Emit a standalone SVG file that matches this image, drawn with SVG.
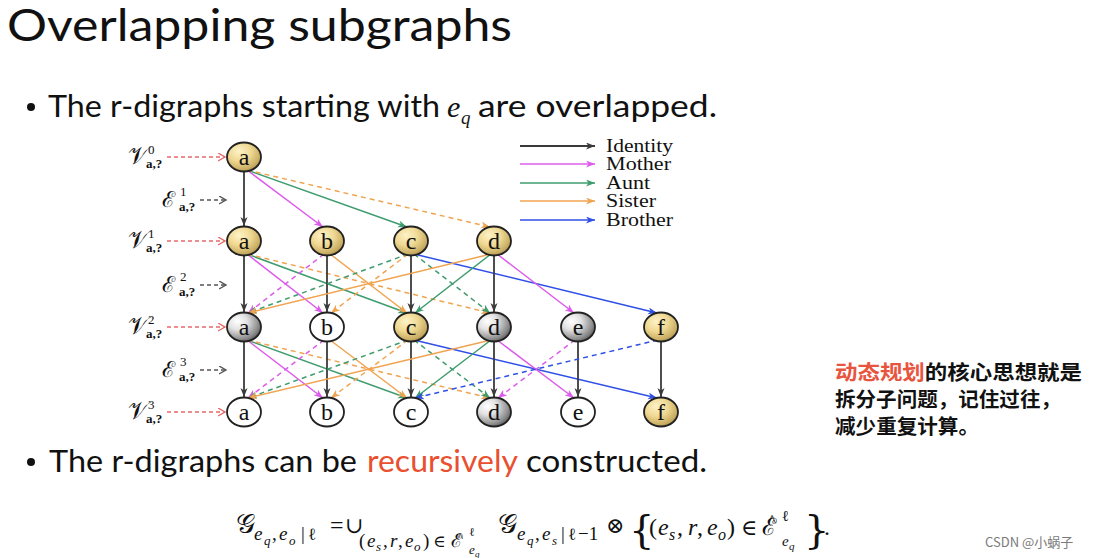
<svg xmlns="http://www.w3.org/2000/svg" width="1096" height="558" viewBox="0 0 1096 558">
<style>
.title{font-family:Lato,"Open Sans",sans-serif;font-size:45px;fill:#111}
.bul{font-family:Lato,"Open Sans",sans-serif;font-size:31px;fill:#111}
.mi{font-family:"Liberation Serif","DejaVu Serif",serif;font-style:italic}
.ser{font-family:"Liberation Serif","DejaVu Serif",serif}
.math{font-family:"DejaVu Serif","Liberation Serif",serif;fill:#111}
.nl{font-family:"Liberation Serif","DejaVu Serif",serif;font-size:24px;fill:#111;text-anchor:middle}
.nd{stroke:#222;stroke-width:1.8}
.e{fill:none;stroke-width:1.5}
.id{stroke:#3a3a3a;stroke-width:1.8;marker-end:url(#mk)}
.mo{stroke:#dd5cec;marker-end:url(#mm)}
.au{stroke:#3f9c6e;marker-end:url(#ma)}
.si{stroke:#f0a450;marker-end:url(#ms)}
.br{stroke:#2f4fe6;marker-end:url(#mb)}
.d{stroke-dasharray:5 4}
.lg{font-family:"Liberation Serif","DejaVu Serif",serif;font-size:18px;fill:#111}
.lbl{font-family:"DejaVu Serif","Liberation Serif",serif;fill:#111}
.sb{font-family:"Liberation Serif","DejaVu Serif",serif;font-size:13px;font-weight:bold;fill:#111}
.cn{font-family:"Noto Sans CJK SC",sans-serif;font-size:20.5px;font-weight:bold;fill:#111}
.f{font-family:"Liberation Serif","DejaVu Serif",serif;fill:#111}
.fi{font-family:"Liberation Serif","DejaVu Serif",serif;font-style:italic;fill:#111}
.hat{font-family:"Liberation Serif","DejaVu Serif",serif;fill:#111;text-anchor:middle}
</style>
<defs>
<radialGradient id="gold" cx="0.4" cy="0.35" r="0.75" fx="0.35" fy="0.3">
<stop offset="0" stop-color="#fdf3c8"/>
<stop offset="0.45" stop-color="#efd892"/>
<stop offset="0.8" stop-color="#c8ac62"/>
<stop offset="1" stop-color="#8a7440"/>
</radialGradient>
<radialGradient id="gray" cx="0.35" cy="0.35" r="0.8" fx="0.3" fy="0.3">
<stop offset="0" stop-color="#ffffff"/>
<stop offset="0.35" stop-color="#e2e2e2"/>
<stop offset="0.75" stop-color="#8a8a8a"/>
<stop offset="1" stop-color="#3e3e3e"/>
</radialGradient>
<marker id="mk" markerUnits="userSpaceOnUse" markerWidth="10" markerHeight="8" refX="9" refY="3.5" orient="auto"><path d="M0,0 L9,3.5 L0,7 L2.5,3.5 Z" fill="#3a3a3a"/></marker>
<marker id="mm" markerUnits="userSpaceOnUse" markerWidth="10" markerHeight="8" refX="9" refY="3.5" orient="auto"><path d="M0,0 L9,3.5 L0,7 L2.5,3.5 Z" fill="#dd5cec"/></marker>
<marker id="ma" markerUnits="userSpaceOnUse" markerWidth="10" markerHeight="8" refX="9" refY="3.5" orient="auto"><path d="M0,0 L9,3.5 L0,7 L2.5,3.5 Z" fill="#3f9c6e"/></marker>
<marker id="ms" markerUnits="userSpaceOnUse" markerWidth="10" markerHeight="8" refX="9" refY="3.5" orient="auto"><path d="M0,0 L9,3.5 L0,7 L2.5,3.5 Z" fill="#f0a450"/></marker>
<marker id="mb" markerUnits="userSpaceOnUse" markerWidth="10" markerHeight="8" refX="9" refY="3.5" orient="auto"><path d="M0,0 L9,3.5 L0,7 L2.5,3.5 Z" fill="#2f4fe6"/></marker>
<marker id="mr" markerUnits="userSpaceOnUse" markerWidth="10" markerHeight="10" refX="7" refY="4" orient="auto"><path d="M0,0 L7,4 L0,8" fill="none" stroke="#e86a6a" stroke-width="1.4"/></marker>
<marker id="mg" markerUnits="userSpaceOnUse" markerWidth="10" markerHeight="10" refX="7" refY="4" orient="auto"><path d="M0,0 L7,4 L0,8" fill="none" stroke="#555" stroke-width="1.4"/></marker>
</defs>
<rect width="1096" height="558" fill="#ffffff"/>

<text class="title" x="7" y="41" textLength="505" lengthAdjust="spacingAndGlyphs">Overlapping subgraphs</text>

<g id="bullet1">
<circle cx="31" cy="107" r="4" fill="#111"/>
<text class="bul" x="48" y="117" textLength="392" lengthAdjust="spacingAndGlyphs">The r-digraphs starting with</text>
<text class="mi" x="447" y="117" font-size="30" fill="#111">e</text>
<text class="mi" x="461" y="124" font-size="19" fill="#111">q</text>
<text class="bul" x="478" y="117" textLength="239" lengthAdjust="spacingAndGlyphs">are overlapped.</text>
</g>

<g id="bullet2">
<circle cx="31" cy="462" r="4" fill="#111"/>
<text class="bul" x="49" y="472" textLength="308" lengthAdjust="spacingAndGlyphs">The r-digraphs can be</text>
<text class="bul" x="367" y="472" textLength="151" lengthAdjust="spacingAndGlyphs" style="fill:#e8502f">recursively</text>
<text class="bul" x="526" y="472" textLength="181" lengthAdjust="spacingAndGlyphs">constructed.</text>
</g>

<g id="legend">
<path class="e id" d="M520,146 L595,146"/>
<path class="e mo" d="M520,164 L595,164"/>
<path class="e au" d="M520,183 L595,183"/>
<path class="e si" d="M520,201 L595,201"/>
<path class="e br" d="M520,220 L595,220"/>
<text class="lg" x="606" y="152" textLength="67" lengthAdjust="spacingAndGlyphs">Identity</text>
<text class="lg" x="606" y="170" textLength="65" lengthAdjust="spacingAndGlyphs">Mother</text>
<text class="lg" x="606" y="189" textLength="44" lengthAdjust="spacingAndGlyphs">Aunt</text>
<text class="lg" x="606" y="207" textLength="50" lengthAdjust="spacingAndGlyphs">Sister</text>
<text class="lg" x="606" y="226" textLength="67" lengthAdjust="spacingAndGlyphs">Brother</text>
</g>

<g id="level-labels">
<g id="V0"><text class="lbl" x="128" y="164" font-size="24">𝒱</text><text class="ser" x="148" y="154" font-size="13" fill="#111">0</text><text class="sb" x="146" y="168">a,?</text><path d="M167,157 L225,157" fill="none" stroke="#e86a6a" stroke-width="1.3" stroke-dasharray="4 3" marker-end="url(#mr)"/></g>
<g id="E1"><text class="lbl" x="162" y="207" font-size="22">ℰ</text><text class="ser" x="180" y="196" font-size="13" fill="#111">1</text><text class="sb" x="179" y="211">a,?</text><path d="M200,200 L226,200" fill="none" stroke="#555" stroke-width="1.3" stroke-dasharray="4 3" marker-end="url(#mg)"/></g>
<g id="V1"><text class="lbl" x="128" y="248" font-size="24">𝒱</text><text class="ser" x="148" y="238" font-size="13" fill="#111">1</text><text class="sb" x="146" y="252">a,?</text><path d="M167,241 L225,241" fill="none" stroke="#e86a6a" stroke-width="1.3" stroke-dasharray="4 3" marker-end="url(#mr)"/></g>
<g id="E2"><text class="lbl" x="162" y="292" font-size="22">ℰ</text><text class="ser" x="180" y="281" font-size="13" fill="#111">2</text><text class="sb" x="179" y="296">a,?</text><path d="M200,285 L226,285" fill="none" stroke="#555" stroke-width="1.3" stroke-dasharray="4 3" marker-end="url(#mg)"/></g>
<g id="V2"><text class="lbl" x="128" y="334" font-size="24">𝒱</text><text class="ser" x="148" y="324" font-size="13" fill="#111">2</text><text class="sb" x="146" y="338">a,?</text><path d="M167,327 L225,327" fill="none" stroke="#e86a6a" stroke-width="1.3" stroke-dasharray="4 3" marker-end="url(#mr)"/></g>
<g id="E3"><text class="lbl" x="162" y="377" font-size="22">ℰ</text><text class="ser" x="180" y="366" font-size="13" fill="#111">3</text><text class="sb" x="179" y="381">a,?</text><path d="M200,370 L226,370" fill="none" stroke="#555" stroke-width="1.3" stroke-dasharray="4 3" marker-end="url(#mg)"/></g>
<g id="V3"><text class="lbl" x="128" y="419" font-size="24">𝒱</text><text class="ser" x="148" y="409" font-size="13" fill="#111">3</text><text class="sb" x="146" y="423">a,?</text><path d="M167,412 L225,412" fill="none" stroke="#e86a6a" stroke-width="1.3" stroke-dasharray="4 3" marker-end="url(#mr)"/></g>
</g>

<g id="connectors">
<!-- level 0 -> 1 -->
<path class="e id" d="M244,171 L244,226"/>
<path class="e mo" d="M247,170 L323,227"/>
<path class="e au" d="M247,170 L407,227"/>
<path class="e si d" d="M247,170 L490,227"/>
<!-- level 1 -> 2 -->
<path class="e id" d="M244,255 L244,312"/>
<path class="e mo" d="M247,254 L323,313"/>
<path class="e au" d="M247,254 L407,313"/>
<path class="e si d" d="M247,254 L490,313"/>
<path class="e mo d" d="M324,254 L248,313"/>
<path class="e id" d="M327,255 L327,312"/>
<path class="e si" d="M330,254 L407,313"/>
<path class="e au d" d="M408,254 L248,313"/>
<path class="e si d" d="M408,254 L331,313"/>
<path class="e id" d="M411,255 L411,312"/>
<path class="e au d" d="M414,254 L490,313"/>
<path class="e br" d="M414,254 L657,313"/>
<path class="e si" d="M491,254 L248,313"/>
<path class="e au" d="M491,254 L415,313"/>
<path class="e id" d="M494,255 L494,312"/>
<path class="e mo" d="M497,254 L574,313"/>
<!-- level 2 -> 3 -->
<path class="e id" d="M244,341 L244,397"/>
<path class="e mo" d="M247,340 L323,398"/>
<path class="e au" d="M247,340 L407,398"/>
<path class="e si d" d="M247,340 L490,398"/>
<path class="e mo d" d="M324,340 L248,398"/>
<path class="e id" d="M327,341 L327,397"/>
<path class="e si" d="M330,340 L407,398"/>
<path class="e au d" d="M408,340 L248,398"/>
<path class="e si d" d="M408,340 L331,398"/>
<path class="e id" d="M411,341 L411,397"/>
<path class="e au d" d="M414,340 L490,398"/>
<path class="e br" d="M414,340 L657,398"/>
<path class="e si" d="M491,340 L248,398"/>
<path class="e au" d="M491,340 L415,398"/>
<path class="e id" d="M494,341 L494,397"/>
<path class="e mo" d="M497,340 L574,398"/>
<path class="e mo d" d="M575,340 L498,398"/>
<path class="e id" d="M578,341 L578,397"/>
<path class="e br d" d="M658,340 L415,398"/>
<path class="e id" d="M661,341 L661,397"/>
</g>

<g id="nodes">
<g id="n0a"><ellipse class="nd" cx="244" cy="157" rx="17" ry="14.5" fill="url(#gold)"/><text class="nl" x="244" y="165">a</text></g>
<g id="n1a"><ellipse class="nd" cx="244" cy="241" rx="17" ry="14.5" fill="url(#gold)"/><text class="nl" x="244" y="249">a</text></g>
<g id="n1b"><ellipse class="nd" cx="327" cy="241" rx="17" ry="14.5" fill="url(#gold)"/><text class="nl" x="327" y="249">b</text></g>
<g id="n1c"><ellipse class="nd" cx="411" cy="241" rx="17" ry="14.5" fill="url(#gold)"/><text class="nl" x="411" y="249">c</text></g>
<g id="n1d"><ellipse class="nd" cx="494" cy="241" rx="17" ry="14.5" fill="url(#gold)"/><text class="nl" x="494" y="249">d</text></g>
<g id="n2a"><ellipse class="nd" cx="244" cy="327" rx="17" ry="14.5" fill="url(#gray)"/><text class="nl" x="244" y="335">a</text></g>
<g id="n2b"><ellipse class="nd" cx="327" cy="327" rx="17" ry="14.5" fill="#fff"/><text class="nl" x="327" y="335">b</text></g>
<g id="n2c"><ellipse class="nd" cx="411" cy="327" rx="17" ry="14.5" fill="url(#gold)"/><text class="nl" x="411" y="335">c</text></g>
<g id="n2d"><ellipse class="nd" cx="494" cy="327" rx="17" ry="14.5" fill="url(#gray)"/><text class="nl" x="494" y="335">d</text></g>
<g id="n2e"><ellipse class="nd" cx="578" cy="327" rx="17" ry="14.5" fill="url(#gray)"/><text class="nl" x="578" y="335">e</text></g>
<g id="n2f"><ellipse class="nd" cx="661" cy="327" rx="17" ry="14.5" fill="url(#gold)"/><text class="nl" x="661" y="335">f</text></g>
<g id="n3a"><ellipse class="nd" cx="244" cy="412" rx="17" ry="14.5" fill="#fff"/><text class="nl" x="244" y="420">a</text></g>
<g id="n3b"><ellipse class="nd" cx="327" cy="412" rx="17" ry="14.5" fill="#fff"/><text class="nl" x="327" y="420">b</text></g>
<g id="n3c"><ellipse class="nd" cx="411" cy="412" rx="17" ry="14.5" fill="#fff"/><text class="nl" x="411" y="420">c</text></g>
<g id="n3d"><ellipse class="nd" cx="494" cy="412" rx="17" ry="14.5" fill="url(#gray)"/><text class="nl" x="494" y="420">d</text></g>
<g id="n3e"><ellipse class="nd" cx="578" cy="412" rx="17" ry="14.5" fill="#fff"/><text class="nl" x="578" y="420">e</text></g>
<g id="n3f"><ellipse class="nd" cx="661" cy="412" rx="17" ry="14.5" fill="url(#gold)"/><text class="nl" x="661" y="420">f</text></g>
</g>

<g id="note">
<text class="cn" x="835" y="380" textLength="247" lengthAdjust="spacingAndGlyphs"><tspan fill="#e8553f">动态规划</tspan>的核心思想就是</text>
<text class="cn" x="835" y="407" textLength="226" lengthAdjust="spacingAndGlyphs">拆分子问题，记住过往，</text>
<text class="cn" x="835" y="434" textLength="144" lengthAdjust="spacingAndGlyphs">减少重复计算。</text>
</g>

<g id="formula">
<!-- G_{e_q,e_o|l} -->
<text class="math" x="236" y="533" font-size="27">𝒢</text>
<text class="fi" x="254" y="540" font-size="19">e</text>
<text class="fi" x="264" y="545" font-size="13">q</text>
<text class="f" x="272" y="540" font-size="19">,</text>
<text class="fi" x="279" y="540" font-size="19">e</text>
<text class="fi" x="289" y="545" font-size="13">o</text>
<text class="f" x="301" y="540" font-size="19">|</text>
<text class="math" x="308" y="540" font-size="17">ℓ</text>
<text class="f" x="330" y="533" font-size="24">=</text>
<text class="math" x="345" y="533" font-size="22">∪</text>
<!-- (e_s,r,e_o) in E^l_eq -->
<text class="f" x="359" y="547" font-size="19">(</text>
<text class="fi" x="367" y="547" font-size="19">e</text>
<text class="fi" x="376" y="551" font-size="13">s</text>
<text class="f" x="383" y="547" font-size="19">,</text>
<text class="fi" x="390" y="547" font-size="19">r</text>
<text class="f" x="398" y="547" font-size="19">,</text>
<text class="fi" x="405" y="547" font-size="19">e</text>
<text class="fi" x="414" y="551" font-size="13">o</text>
<text class="f" x="423" y="547" font-size="19">)</text>
<text class="math" x="433" y="547" font-size="17">∈</text>
<text class="math" x="451" y="547" font-size="19">ℰ</text>
<text class="hat" x="460" y="541" font-size="13">^</text>
<text class="math" x="469" y="536" font-size="12">ℓ</text>
<text class="fi" x="469" y="554" font-size="13">e</text>
<text class="fi" x="475" y="557" font-size="9">q</text>
<!-- G_{e_q,e_s|l-1} -->
<text class="math" x="498" y="533" font-size="27">𝒢</text>
<text class="fi" x="517" y="540" font-size="19">e</text>
<text class="fi" x="527" y="545" font-size="13">q</text>
<text class="f" x="535" y="540" font-size="19">,</text>
<text class="fi" x="542" y="540" font-size="19">e</text>
<text class="fi" x="552" y="545" font-size="13">s</text>
<text class="f" x="561" y="540" font-size="19">|</text>
<text class="math" x="568" y="540" font-size="17">ℓ</text>
<text class="f" x="578" y="540" font-size="19">−1</text>
<text class="math" x="606" y="533" font-size="22">⊗</text>
<text class="math" x="629" y="543" font-size="40">{</text>
<!-- (e_s, r, e_o) in E^l_eq -->
<text class="f" x="649" y="535" font-size="24">(</text>
<text class="fi" x="658" y="535" font-size="24">e</text>
<text class="fi" x="669" y="540" font-size="16">s</text>
<text class="f" x="677" y="535" font-size="24">,</text>
<text class="fi" x="688" y="535" font-size="24">r</text>
<text class="f" x="697" y="535" font-size="24">,</text>
<text class="fi" x="707" y="535" font-size="24">e</text>
<text class="fi" x="718" y="540" font-size="16">o</text>
<text class="f" x="727" y="535" font-size="24">)</text>
<text class="math" x="741" y="535" font-size="22">∈</text>
<text class="math" x="762" y="535" font-size="24">ℰ</text>
<text class="hat" x="772" y="526" font-size="17">^</text>
<text class="math" x="782" y="521" font-size="15">ℓ</text>
<text class="fi" x="782" y="546" font-size="15">e</text>
<text class="fi" x="789" y="550" font-size="11">q</text>
<text class="math" x="804" y="543" font-size="40">}</text>
<text class="f" x="824" y="535" font-size="24">.</text>
</g>

<text x="985" y="547" font-family="'Noto Sans CJK SC',sans-serif" font-size="13" fill="#7a7a7a">CSDN @小蜗子</text>
</svg>
